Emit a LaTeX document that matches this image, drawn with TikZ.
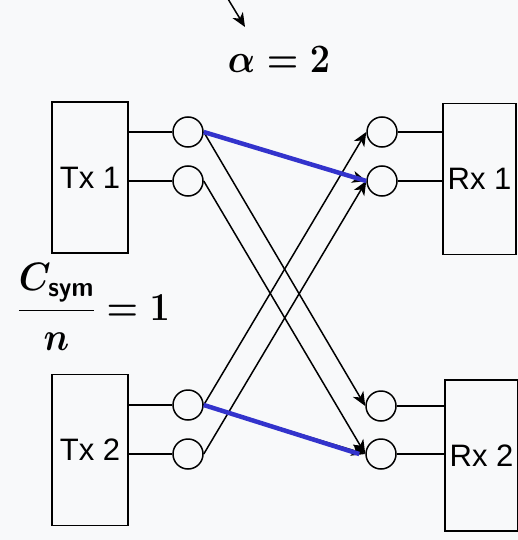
\RequirePackage{fix-cm}
\documentclass[tikz,border=0pt]{standalone}
\usepackage{amsmath}
\usepackage{fontspec}
\newfontfamily\arialf{Liberation Sans}
\usetikzlibrary{arrows.meta}
\definecolor{bgc}{RGB}{248,249,250}
\definecolor{blu}{RGB}{51,51,204}
\tikzset{
  txbox/.style={draw, rectangle, minimum width=76pt, minimum height=151pt, inner sep=0pt,
    font=\arialf\fontsize{31}{34}\selectfont},
  rxbox/.style={txbox, minimum width=73pt},
  port/.style={draw, circle, minimum size=30pt, inner sep=0pt},
  link/.style={-{Stealth[length=14pt,width=12pt,inset=4pt]}},
  hi/.style={blu, line width=4.5pt},
  mathlbl/.style={inner sep=0pt, font=\fontsize{36}{40}\selectfont}
}
\begin{document}
\begin{tikzpicture}[x=1pt, y=-1pt, line width=1.5pt]
\fill[bgc] (0,0) rectangle (518,540);
\useasboundingbox (0,0) rectangle (518,540);

% boxes
\node[txbox] (tx1) at (90,177.5) {Tx 1};
\node[txbox] (tx2) at (90,450) {Tx 2};
\node[rxbox] (rx1) at (479.5,179) {Rx 1};
\node[rxbox] (rx2) at (481.5,455.5) {Rx 2};

% ports
\node[port] (a1) at (188,132) {};
\node[port] (a2) at (188,181) {};
\node[port] (b1) at (188,405) {};
\node[port] (b2) at (188,454) {};
\node[port] (c1) at (382,132) {};
\node[port] (c2) at (382,181) {};
\node[port] (d1) at (381,406) {};
\node[port] (d2) at (381,454) {};

% box to port
\draw (tx1.east |- a1) -- (a1.west);
\draw (tx1.east |- a2) -- (a2.west);
\draw (tx2.east |- b1) -- (b1.west);
\draw (tx2.east |- b2) -- (b2.west);
\draw (c1.east) -- (rx1.west |- c1);
\draw (c2.east) -- (rx1.west |- c2);
\draw (d1.east) -- (rx2.west |- d1);
\draw (d2.east) -- (rx2.west |- d2);

% crossing links
\draw[link] (a1.east) -- (d1.west);
\draw[link] (a2.east) -- (d2.west);
\draw[link] (b1.east) -- (c1.west);
\draw[link] (b2.east) -- (c2.west);
\draw[link] (a1.east) -- (c2.west);
\draw[link] (b1.east) -- (d2.west);
\draw[hi] (a1.east) -- (c2.west);
\draw[hi] (b1.east) -- ([xshift=-6pt]d2.west);

% labels
\node[mathlbl] (alpha) at (279,60) {\scalebox{1}[1.12]{\boldmath$\alpha=2$}};
\coordinate (src) at (225,-6);
\coordinate (tip) at (245,27);
\draw[link] (src) -- (tip);
\node[mathlbl, anchor=west] (rate) at (17,307) {\scalebox{1}[1.1]{\boldmath$\dfrac{C_{\textsf{\textbf{sym}}}}{n}=1$}};
\end{tikzpicture}
\end{document}
